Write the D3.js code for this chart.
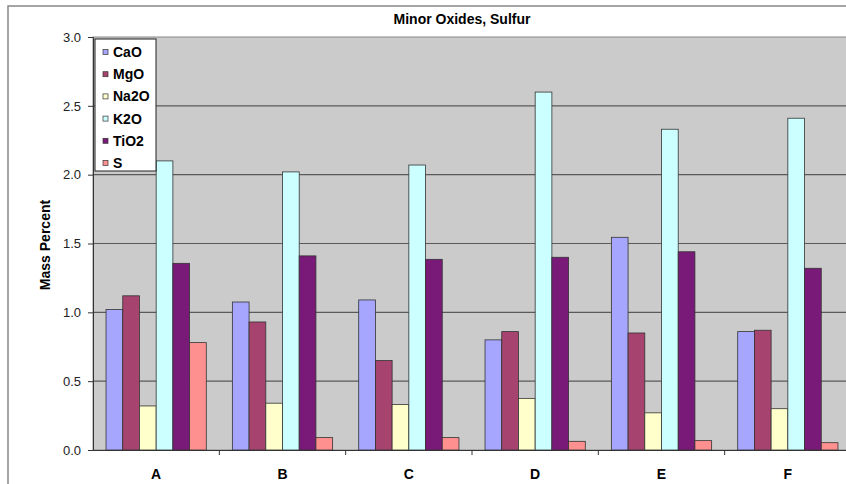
<!DOCTYPE html>
<html><head><meta charset="utf-8">
<script src="https://cdn.jsdelivr.net/npm/d3@7/dist/d3.min.js"></script>
<style>body{margin:0;background:#fff}svg{display:block;font-family:"Liberation Sans",Arial,sans-serif}</style>
</head><body><svg id="c" width="846" height="484"></svg>
<script>
const categories = ["A","B","C","D","E","F"];
const seriesNames = ["CaO","MgO","Na2O","K2O","TiO2","S"];
const CaO  = [1.02, 1.075, 1.09, 0.80, 1.545, 0.86];
const MgO  = [1.12, 0.93, 0.65, 0.86, 0.85, 0.87];
const Na2O = [0.32, 0.34, 0.33, 0.375, 0.27, 0.30];
const K2O  = [2.10, 2.02, 2.07, 2.60, 2.33, 2.41];
const TiO2 = [1.356, 1.41, 1.385, 1.40, 1.44, 1.32];
const S    = [0.78, 0.09, 0.09, 0.063, 0.068, 0.053];
const yTicks = [0, 0.5, 1.0, 1.5, 2.0, 2.5, 3.0];
const colors = ["#a6a6ff","#a6446f","#ffffcc","#ccffff","#7a1a78","#ff9090"];

const values = [CaO, MgO, Na2O, K2O, TiO2, S];
const svg = d3.select("#c");
const L = 93, T = 37, R = 851, B = 450;

// outer chart border
svg.append("rect").attr("x",8).attr("y",6).attr("width",860).attr("height",500)
  .attr("fill","#fff").attr("stroke","#888").attr("stroke-width",1.5);

svg.append("text").attr("x",462).attr("y",24).attr("text-anchor","middle")
  .attr("font-size",14).attr("font-weight","bold").text("Minor Oxides, Sulfur");

const x0 = d3.scaleBand().domain(categories).range([L,R]).padding(0);
const x1 = d3.scaleBand().domain(seriesNames).range([0,x0.bandwidth()]).paddingInner(0).paddingOuter(0.78);
const y = d3.scaleLinear().domain([0,3]).range([B,T]);

svg.append("rect").attr("x",L).attr("y",T).attr("width",R-L).attr("height",B-T)
  .attr("fill","#cbcbcb").attr("stroke","#8a8a8a").attr("stroke-width",1);

// gridlines
svg.append("g").selectAll("line").data(yTicks.filter(d=>d>0 && d<3)).join("line")
  .attr("x1",L).attr("x2",R).attr("y1",d=>y(d)).attr("y2",d=>y(d))
  .attr("stroke","#5a5a5a").attr("stroke-width",1.2);

// bars
const g = svg.append("g");
categories.forEach((c,i)=>{
  seriesNames.forEach((s,j)=>{
    const v = values[j][i];
    g.append("rect").attr("x",x0(c)+x1(s)).attr("y",y(v))
      .attr("width",x1.bandwidth()).attr("height",B-y(v))
      .attr("fill",colors[j]).attr("stroke","#333").attr("stroke-width",0.8);
  });
});

// y axis
const ya = svg.append("g").attr("transform",`translate(${L},0)`)
  .call(d3.axisLeft(y).tickValues(yTicks).tickFormat(d3.format(".1f")).tickSize(5).tickPadding(7));
ya.select(".domain").attr("stroke","#333");
ya.selectAll(".tick line").attr("stroke","#333");
ya.selectAll("text").attr("font-size",13).attr("fill","#222").attr("font-family","Liberation Sans, Arial, sans-serif");

// x axis
const xa = svg.append("g").attr("transform",`translate(0,${B})`)
  .call(d3.axisBottom(x0).tickSize(0).tickPadding(19));
xa.select(".domain").attr("stroke","#333");
xa.selectAll("text").attr("font-size",14).attr("font-weight","bold").attr("fill","#000").attr("font-family","Liberation Sans, Arial, sans-serif");
svg.append("g").selectAll("line").data(categories.slice(1)).join("line")
  .attr("x1",d=>x0(d)).attr("x2",d=>x0(d)).attr("y1",B).attr("y2",B+5).attr("stroke","#333");

svg.append("text").attr("transform","translate(50,245) rotate(-90)").attr("text-anchor","middle")
  .attr("font-size",14).attr("font-weight","bold").text("Mass Percent");

// legend
const lg = svg.append("g").attr("transform","translate(95,39)");
lg.append("rect").attr("width",61).attr("height",132).attr("fill","#fff").attr("stroke","#222").attr("stroke-width",1);
seriesNames.forEach((s,j)=>{
  const yy = 13 + j*22.2;
  lg.append("rect").attr("x",8).attr("y",yy-2.5).attr("width",5).attr("height",5)
    .attr("fill",colors[j]).attr("stroke","#333").attr("stroke-width",0.7);
  lg.append("text").attr("x",18).attr("y",yy+5).attr("font-size",14).attr("font-weight","bold").text(s);
});
</script></body></html>
